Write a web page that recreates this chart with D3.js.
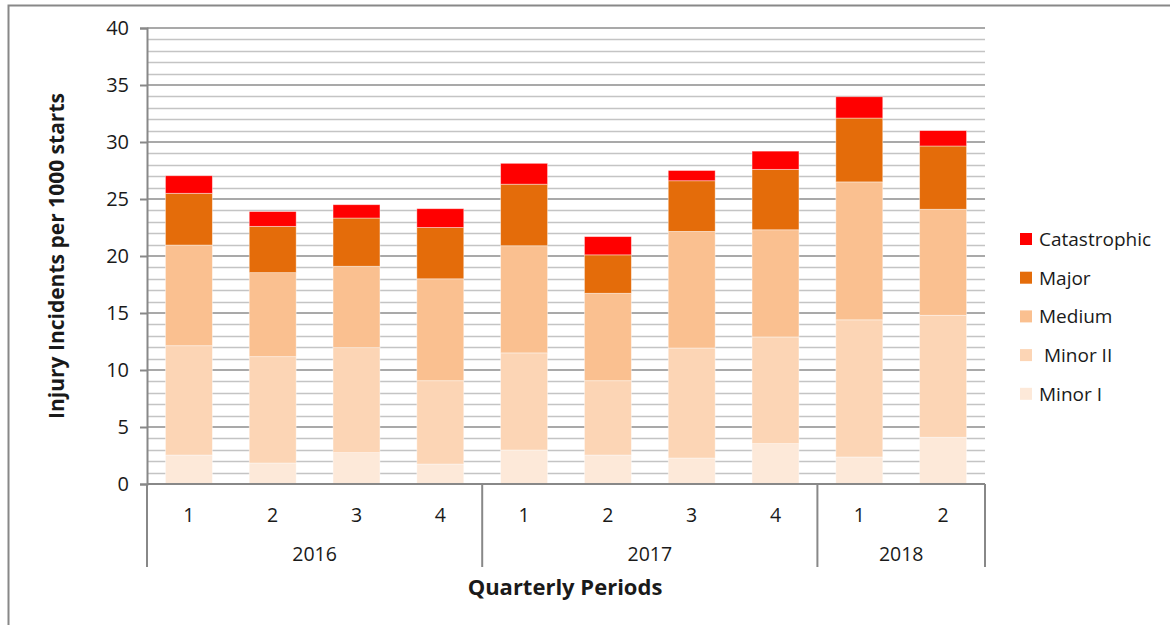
<!DOCTYPE html>
<html>
<head>
<meta charset="utf-8">
<script src="https://cdn.jsdelivr.net/npm/d3@7"></script>
<style>
  body { margin: 0; background: #fff; }
  svg text { font-family: "Open Sans", sans-serif; fill: #1a1a1a; }
</style>
</head>
<body>
<div id="chart"></div>
<script>
// values, per quarter (2016 Q1 .. 2018 Q2)
var years    = ["2016", "2017", "2018"];
var quarters = ["1", "2", "3", "4", "1", "2", "3", "4", "1", "2"];
var yearOf   = ["2016", "2016", "2016", "2016", "2017", "2017", "2017", "2017", "2018", "2018"];

var minor1       = [2.54, 1.84, 2.75, 1.75, 2.98, 2.54, 2.28, 3.54, 2.37, 4.10];
var minor2       = [9.59, 9.33, 9.21, 7.31, 8.52, 6.52, 9.65, 9.36, 12.03, 10.70];
var medium       = [8.83, 7.37, 7.14, 8.94, 9.40, 7.67, 10.23, 9.40, 12.10, 9.30];
var major        = [4.54, 4.06, 4.23, 4.50, 5.40, 3.37, 4.44, 5.30, 5.60, 5.55];
var catastrophic = [1.54, 1.30, 1.17, 1.65, 1.83, 1.60, 0.90, 1.60, 1.87, 1.35];

var seriesNames  = ["Minor I", " Minor II", "Medium", "Major", "Catastrophic"];
var seriesColors = ["#FDE9D9", "#FCD5B5", "#FAC090", "#E46C0A", "#FF0000"];
var yTicks = [0, 5, 10, 15, 20, 25, 30, 35, 40];

var width = 1170, height = 625;
var margin = {top: 28, right: 185, bottom: 141, left: 147};
var plotW = width - margin.left - margin.right;
var plotH = height - margin.top - margin.bottom;

var rows = quarters.map(function (q, i) {
    return {idx: i, q: q, year: yearOf[i],
            "Minor I": minor1[i], " Minor II": minor2[i], "Medium": medium[i],
            "Major": major[i], "Catastrophic": catastrophic[i]};
});

var svg = d3.select("#chart").append("svg")
    .attr("width", width)
    .attr("height", height);

// outer chart border
svg.append("rect")
    .attr("x", 8.5).attr("y", 5.5)
    .attr("width", width + 20).attr("height", height + 20)
    .attr("fill", "none")
    .attr("stroke", "#888")
    .attr("stroke-width", 2);

var g = svg.append("g")
    .attr("transform", "translate(" + margin.left + "," + margin.top + ")");

var x = d3.scaleBand()
    .domain(d3.range(quarters.length))
    .range([0, plotW])
    .paddingInner(0.44)
    .paddingOuter(0.22);

var y = d3.scaleLinear()
    .domain([0, 40])
    .range([plotH, 0]);

// minor gridlines every 1
g.append("g").selectAll("line")
    .data(d3.range(1, 40).filter(function (v) { return v % 5 !== 0; }))
    .join("line")
    .attr("x1", 0).attr("x2", plotW)
    .attr("y1", function (d) { return Math.round(y(d)) + 0.5; })
    .attr("y2", function (d) { return Math.round(y(d)) + 0.5; })
    .attr("stroke", "#c4c4c4")
    .attr("stroke-width", 1.3);

// major gridlines every 5
g.append("g").selectAll("line")
    .data(yTicks.slice(1))
    .join("line")
    .attr("x1", 0).attr("x2", plotW)
    .attr("y1", function (d) { return y(d); })
    .attr("y2", function (d) { return y(d); })
    .attr("stroke", "#8c8c8c")
    .attr("stroke-width", 1.6);

// stacked bars
var stack = d3.stack().keys(seriesNames);
var layers = stack(rows);

g.append("g").selectAll("g")
    .data(layers)
    .join("g")
    .attr("fill", function (d, i) { return seriesColors[i]; })
    .selectAll("rect")
    .data(function (d) { return d; })
    .join("rect")
    .attr("x", function (d) { return x(d.data.idx); })
    .attr("width", x.bandwidth())
    .attr("y", function (d) { return y(d[1]); })
    .attr("height", function (d) { return y(d[0]) - y(d[1]); })
    .attr("stroke", "rgba(255,255,255,0.5)")
    .attr("stroke-width", 0.8);

// y axis
var yAxis = g.append("g")
    .call(d3.axisLeft(y).tickValues(yTicks).tickSize(7).tickPadding(11));
yAxis.select(".domain").attr("stroke", "#888").attr("stroke-width", 2);
yAxis.selectAll(".tick line").attr("stroke", "#888").attr("stroke-width", 2);
yAxis.selectAll(".tick text")
    .attr("font-size", 20)
    .attr("font-family", "'Open Sans', sans-serif")
    .attr("fill", "#1a1a1a");

// x axis line
g.append("line")
    .attr("x1", 0).attr("x2", plotW)
    .attr("y1", plotH).attr("y2", plotH)
    .attr("stroke", "#888")
    .attr("stroke-width", 2);

// quarter labels
g.append("g").selectAll("text")
    .data(rows)
    .join("text")
    .attr("x", function (d) { return x(d.idx) + x.bandwidth() / 2; })
    .attr("y", plotH + 38)
    .attr("text-anchor", "middle")
    .attr("font-size", 19.5)
    .text(function (d) { return d.q; });

// year groups: separators and labels
var step = x.step();
var groups = years.map(function (yr) {
    var idx = rows.filter(function (r) { return r.year === yr; }).map(function (r) { return r.idx; });
    return {year: yr, start: d3.min(idx), end: d3.max(idx) + 1};
});
var sepX = [0].concat(groups.map(function (gr) { return gr.end * step; }));
sepX[sepX.length - 1] = plotW;

g.append("g").selectAll("line")
    .data(sepX)
    .join("line")
    .attr("x1", function (d) { return d; })
    .attr("x2", function (d) { return d; })
    .attr("y1", plotH)
    .attr("y2", plotH + 83)
    .attr("stroke", "#888")
    .attr("stroke-width", 2);

g.append("g").selectAll("text")
    .data(groups)
    .join("text")
    .attr("x", function (d) { return (d.start + d.end) / 2 * step; })
    .attr("y", plotH + 77)
    .attr("text-anchor", "middle")
    .attr("font-size", 19.5)
    .text(function (d) { return d.year; });

// axis titles
svg.append("text")
    .attr("x", 565)
    .attr("y", 595)
    .attr("text-anchor", "middle")
    .attr("font-size", 22)
    .attr("font-weight", "bold")
    .attr("fill", "#111")
    .text("Quarterly Periods");

svg.append("text")
    .attr("transform", "translate(64,256) rotate(-90)")
    .attr("text-anchor", "middle")
    .attr("font-size", 21)
    .attr("font-weight", "bold")
    .attr("fill", "#111")
    .text("Injury Incidents per 1000 starts");

// legend, top entry is Catastrophic
var legend = svg.append("g")
    .attr("transform", "translate(1020,233)");
var legendItems = seriesNames.slice().reverse();
var legendColors = seriesColors.slice().reverse();

var li = legend.selectAll("g")
    .data(legendItems)
    .join("g")
    .attr("transform", function (d, i) { return "translate(0," + (i * 38.7) + ")"; });

li.append("rect")
    .attr("width", 12).attr("height", 12)
    .attr("fill", function (d, i) { return legendColors[i]; });

li.append("text")
    .attr("x", 19)
    .attr("y", 13)
    .attr("font-size", 19)
    .attr("xml:space", "preserve")
    .style("white-space", "pre")
    .text(function (d) { return d; });
</script>
</body>
</html>
